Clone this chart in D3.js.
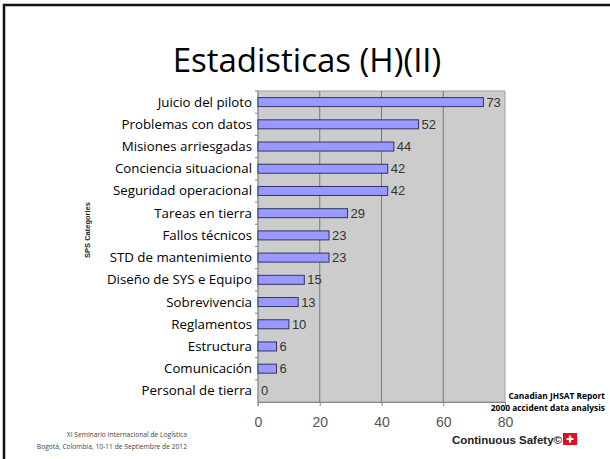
<!DOCTYPE html>
<html>
<head>
<meta charset="utf-8">
<script src="https://cdn.jsdelivr.net/npm/d3@7"></script>
<style>
  body { margin: 0; background: #fff; }
  svg { display: block; }
</style>
</head>
<body>
<svg id="chart" width="610" height="459"></svg>
<script>
const categories = ['Juicio del piloto', 'Problemas con datos', 'Misiones arriesgadas', 'Conciencia situacional',
  'Seguridad operacional', 'Tareas en tierra', 'Fallos técnicos', 'STD de mantenimiento',
  'Diseño de SYS e Equipo', 'Sobrevivencia', 'Reglamentos ', 'Estructura', 'Comunicación', 'Personal de tierra'];
const values = [73, 52, 44, 42, 42, 29, 23, 23, 15, 13, 10, 6, 6, 0];
const xTicks = [0, 20, 40, 60, 80];

const svg = d3.select('#chart');
const plotL = 258, plotR = 505, plotT = 91, plotB = 402;

// slide frame
svg.append('path')
  .attr('d', 'M4,470 L4,5 L620,5')
  .attr('fill', 'none')
  .attr('stroke', '#111')
  .attr('stroke-width', 2.5);

svg.append('text')
  .attr('x', 307).attr('y', 72)
  .attr('text-anchor', 'middle')
  .style('font-family', 'Open Sans, sans-serif')
  .style('font-size', '33px')
  .style('fill', '#000')
  .text('Estadisticas (H)(II)');

const x = d3.scaleLinear().domain([0, 80]).range([plotL, plotR]);
const y = d3.scaleBand().domain(categories).range([plotT, plotB]);

svg.append('rect')
  .attr('x', plotL).attr('y', plotT)
  .attr('width', plotR - plotL).attr('height', plotB - plotT)
  .attr('fill', '#cccccc')
  .attr('stroke', '#a0a0a0');

svg.append('g').selectAll('line')
  .data(xTicks.slice(1, -1))
  .enter().append('line')
  .attr('x1', d => x(d)).attr('x2', d => x(d))
  .attr('y1', plotT).attr('y2', plotB)
  .attr('stroke', '#777');

// left axis with ticks between categories
const yAxis = svg.append('g');
yAxis.append('line')
  .attr('x1', plotL).attr('x2', plotL)
  .attr('y1', plotT).attr('y2', plotB + 4)
  .attr('stroke', '#888');
yAxis.selectAll('.tk')
  .data(categories)
  .enter().append('line')
  .attr('x1', plotL - 3).attr('x2', plotL)
  .attr('y1', d => y(d)).attr('y2', d => y(d))
  .attr('stroke', '#888');

const xAxis = svg.append('g')
  .attr('transform', `translate(0,${plotB})`)
  .call(d3.axisBottom(x).tickValues(xTicks).tickSize(4).tickPadding(11));
xAxis.select('.domain').attr('stroke', '#888');
xAxis.selectAll('.tick line').attr('stroke', '#888');
xAxis.selectAll('text')
  .style('font-family', 'Liberation Sans, Arial, sans-serif')
  .style('font-size', '14px')
  .style('fill', '#555');

const barH = 9;
svg.append('g').selectAll('rect')
  .data(values)
  .enter().append('rect')
  .attr('x', x(0))
  .attr('y', (d, i) => y(categories[i]) + y.bandwidth() / 2 - barH / 2)
  .attr('width', d => x(d) - x(0))
  .attr('height', barH)
  .attr('fill', '#9999ff')
  .attr('stroke', '#333366')
  .attr('stroke-width', d => d > 0 ? 1 : 0);

svg.append('g').selectAll('text')
  .data(values)
  .enter().append('text')
  .attr('x', d => x(d) + 3)
  .attr('y', (d, i) => y(categories[i]) + y.bandwidth() / 2 + 4.5)
  .style('font-family', 'Liberation Sans, Arial, sans-serif')
  .style('font-size', '13px')
  .style('fill', '#333')
  .text(d => d);

svg.append('g').selectAll('text')
  .data(categories)
  .enter().append('text')
  .attr('x', 252)
  .attr('y', d => y(d) + y.bandwidth() / 2 + 4.5)
  .attr('text-anchor', 'end')
  .style('font-family', 'Open Sans, sans-serif')
  .style('font-size', '13.3px')
  .style('fill', '#000')
  .text(d => d);

svg.append('text')
  .attr('transform', 'translate(90,230) rotate(-90)')
  .attr('text-anchor', 'middle')
  .style('font-family', 'Liberation Sans, Arial, sans-serif')
  .style('font-size', '7.5px')
  .style('font-weight', 'bold')
  .style('fill', '#222')
  .text('SPS Categories');

const note = svg.append('text')
  .attr('text-anchor', 'end')
  .style('font-family', 'Open Sans, sans-serif')
  .style('font-size', '8.4px')
  .style('font-weight', 'bold')
  .style('fill', '#000');
note.append('tspan').attr('x', 605).attr('y', 399).text('Canadian JHSAT Report');
note.append('tspan').attr('x', 605).attr('y', 411).text('2000 accident data analysis');

svg.append('text')
  .attr('x', 562).attr('y', 444)
  .attr('text-anchor', 'end')
  .style('font-family', 'Liberation Sans, Arial, sans-serif')
  .style('font-size', '11.5px')
  .style('font-weight', 'bold')
  .style('fill', '#222')
  .text('Continuous Safety©');
svg.append('rect')
  .attr('x', 563).attr('y', 433).attr('width', 14).attr('height', 12)
  .attr('fill', '#e01020');
svg.append('path')
  .attr('d', 'M570,435.5 V442.5 M566.5,439 H573.5')
  .attr('stroke', '#fff').attr('stroke-width', 2.2);

const foot = svg.append('text')
  .attr('text-anchor', 'end')
  .style('font-family', 'Open Sans, sans-serif')
  .style('font-size', '6.7px')
  .style('fill', '#444');
foot.append('tspan').attr('x', 187).attr('y', 437).text('XI Seminario Internacional de Logística');
foot.append('tspan').attr('x', 187).attr('y', 449).text('Bogotá, Colombia, 10-11 de Septiembre de 2012');
</script>
</body>
</html>
